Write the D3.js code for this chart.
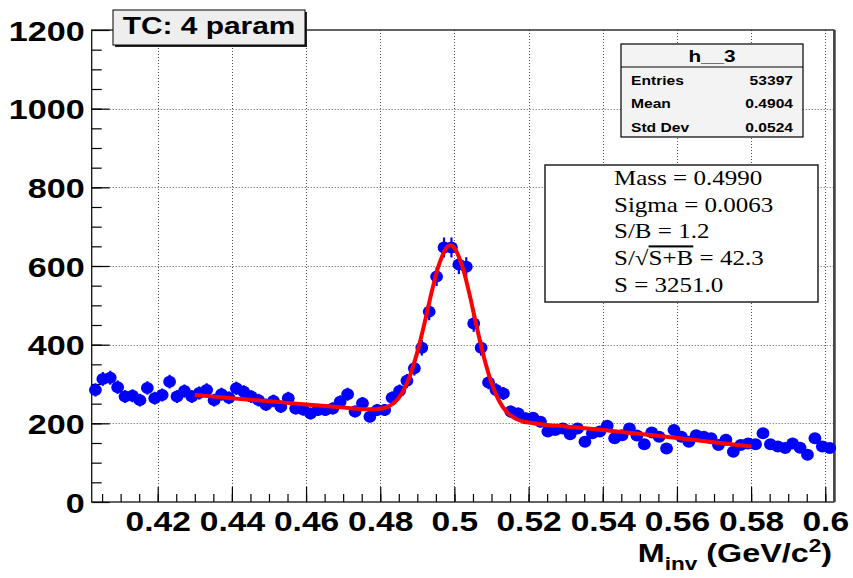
<!DOCTYPE html>
<html><head><meta charset="utf-8">
<script src="https://cdn.jsdelivr.net/npm/d3@7"></script>
<style>
html,body{margin:0;padding:0;background:#fff;}
svg{display:block;}
text{font-family:"Liberation Sans",Arial,Helvetica,sans-serif;}
</style></head>
<body>
<script>
// ---------------- data ----------------
const binLow = 0.4022;
const binWidth = 0.002;
const counts = [
  285,313,316,292,268,270,259,290,264,272,306,268,282,268,277,285,259,274,265,289,
  280,268,259,247,257,242,264,238,235,225,234,234,238,255,274,230,251,217,234,234,
  265,282,308,340,392,484,573,647,647,604,598,454,392,304,285,276,230,225,213,214,
  204,179,183,187,172,187,153,175,179,194,162,170,187,169,147,177,166,136,183,166,
  153,170,166,162,145,158,128,145,149,147,175,147,141,137,149,138,120,162,141,137
];
const fitMass = [0.430,0.440,0.450,0.460,0.470,0.475,0.480,0.482,0.484,0.486,0.488,0.490,
  0.492,0.494,0.496,0.498,0.499,0.500,0.502,0.504,0.506,0.508,0.510,0.512,0.514,0.516,
  0.518,0.520,0.525,0.530,0.540,0.550,0.560,0.570,0.580];
const fitValue = [272,264,256,248,240,236,237,242,254,279,321,381,
  457,539,608,648,653,646,603,531,446,367,303,258,230,215,
  206,202,196,192,183,173,163,152,141];
const xTicks = [0.42,0.44,0.46,0.48,0.50,0.52,0.54,0.56,0.58,0.60];
const xTickLabels = ["0.42","0.44","0.46","0.48","0.5","0.52","0.54","0.56","0.58","0.6"];
const yTicks = [0,200,400,600,800,1000,1200];
const yTickLabels = ["0","200","400","600","800","1000","1200"];
const titleText = "TC: 4 param";
const statsTitle = "h__3";
const statsNames = ["Entries","Mean","Std Dev"];
const statsValues = ["53397","0.4904","0.0524"];
const fitLines = ["Mass = 0.4990","Sigma = 0.0063","S/B = 1.2","SQRT","S = 3251.0"];

// ---------------- layout ----------------
const W = 853, H = 578;
const SX = 1.22; // horizontal text stretch of the original picture
const frame = {l: 91.7, r: 834, t: 30, b: 502};

const svg = d3.select("body").append("svg").attr("width", W).attr("height", H);

const x = d3.scaleLinear().domain([0.4022, 0.60235]).range([frame.l, frame.r]);
const y = d3.scaleLinear().domain([0, 1200]).range([frame.b, frame.t]);

// grid
const grid = svg.append("g").attr("stroke", "#555").attr("stroke-width", 1).attr("stroke-dasharray", "1,2");
grid.selectAll("line.gx").data(xTicks).enter().append("line")
  .attr("x1", d => Math.round(x(d)) + 0.5).attr("x2", d => Math.round(x(d)) + 0.5)
  .attr("y1", frame.t).attr("y2", frame.b);
grid.selectAll("line.gy").data(yTicks.slice(1, -1)).enter().append("line")
  .attr("y1", d => Math.round(y(d)) + 0.5).attr("y2", d => Math.round(y(d)) + 0.5)
  .attr("x1", frame.l).attr("x2", frame.r);

// axes (ticks inside the frame)
function styleAxis(g) {
  g.select(".domain").remove();
  g.selectAll(".tick line").attr("stroke", "#000").attr("stroke-width", 1.2);
}
const xMinor = d3.range(0.405, 0.6001, 0.005);
svg.append("g").attr("transform", `translate(0,${frame.b})`)
  .call(d3.axisBottom(x).tickValues(xMinor).tickSize(-8).tickFormat(""))
  .call(styleAxis);
const yMinor = d3.range(50, 1200, 50);
svg.append("g").attr("transform", `translate(${frame.l},0)`)
  .call(d3.axisLeft(y).tickValues(yMinor).tickSize(-10).tickFormat(""))
  .call(styleAxis);

const xAxis = svg.append("g").attr("transform", `translate(0,${frame.b})`)
  .call(d3.axisBottom(x).tickValues(xTicks).tickSize(-15).tickFormat((d, i) => xTickLabels[i]))
  .call(styleAxis);
xAxis.selectAll(".tick text")
  .attr("y", null).attr("dy", null).attr("x", null)
  .attr("transform", `translate(0,29) scale(${SX},1)`)
  .attr("text-anchor", "middle")
  .attr("font-size", 27.5).attr("font-weight", "bold").attr("fill", "#000")
  .style("font-family", "'Liberation Sans',Arial,sans-serif");

const yAxis = svg.append("g").attr("transform", `translate(${frame.l},0)`)
  .call(d3.axisLeft(y).tickValues(yTicks).tickSize(-18).tickFormat((d, i) => yTickLabels[i]))
  .call(styleAxis);
yAxis.selectAll(".tick text")
  .attr("x", null).attr("dy", null)
  .attr("transform", `translate(-7,10) scale(${SX},1)`)
  .attr("text-anchor", "end")
  .attr("font-size", 28).attr("font-weight", "bold").attr("fill", "#000")
  .style("font-family", "'Liberation Sans',Arial,sans-serif");

// frame
svg.append("rect").attr("x", frame.l).attr("y", frame.t)
  .attr("width", frame.r - frame.l).attr("height", frame.b - frame.t)
  .attr("fill", "none").attr("stroke", "#111").attr("stroke-width", 1.3);
svg.append("line").attr("x1", frame.r + 0.5).attr("x2", frame.r + 0.5)
  .attr("y1", frame.t).attr("y2", frame.b).attr("stroke", "#444").attr("stroke-width", 2.5);

// data points
const bins = counts.map((c, i) => ({m: binLow + binWidth * (i + 0.5), v: c, e: Math.sqrt(c)}));
const pts = svg.append("g").attr("fill", "#0000ff").attr("stroke", "#0000ff");
pts.selectAll("line.ev").data(bins).enter().append("line")
  .attr("x1", d => x(d.m)).attr("x2", d => x(d.m))
  .attr("y1", d => y(d.v - d.e)).attr("y2", d => y(d.v + d.e))
  .attr("stroke-width", 2.2);
pts.selectAll("line.eh").data(bins).enter().append("line")
  .attr("x1", d => x(d.m - binWidth / 2)).attr("x2", d => x(d.m + binWidth / 2))
  .attr("y1", d => y(d.v)).attr("y2", d => y(d.v))
  .attr("stroke-width", 2.2);
pts.selectAll("ellipse").data(bins).enter().append("ellipse")
  .attr("cx", d => x(d.m)).attr("cy", d => y(d.v))
  .attr("rx", 6.4).attr("ry", 6).attr("stroke", "none");

// fit curve
const line = d3.line().x((d, i) => x(fitMass[i])).y(d => y(d)).curve(d3.curveCatmullRom.alpha(0.5));
svg.append("path").datum(fitValue).attr("d", line)
  .attr("fill", "none").attr("stroke", "#ff0000").attr("stroke-width", 4);

// helper for stretched text
function stext(parent, px, py, str, size, opts = {}) {
  return parent.append("text")
    .attr("transform", `translate(${px},${py}) scale(${SX},1)`)
    .attr("font-size", size)
    .attr("font-weight", opts.weight || "normal")
    .attr("text-anchor", opts.anchor || "start")
    .style("font-family", opts.family || "'Liberation Sans',Arial,sans-serif")
    .attr("fill", "#000")
    .text(str);
}

// title box
const tb = {x: 113, y: 10, w: 192, h: 35};
svg.append("rect").attr("x", tb.x + 2).attr("y", tb.y + 2).attr("width", tb.w).attr("height", tb.h).attr("fill", "#222");
svg.append("rect").attr("x", tb.x).attr("y", tb.y).attr("width", tb.w).attr("height", tb.h)
  .attr("fill", "#eeeeee").attr("stroke", "#000").attr("stroke-width", 1);
stext(svg, tb.x + tb.w / 2, 34, titleText, 24.5, {weight: "bold", anchor: "middle"});

// stats box
const sb = {x: 621, y: 44, w: 182, h: 93, hh: 23};
svg.append("rect").attr("x", sb.x).attr("y", sb.y).attr("width", sb.w).attr("height", sb.h)
  .attr("fill", "#f3f3f3").attr("stroke", "#000").attr("stroke-width", 1.2);
svg.append("line").attr("x1", sb.x).attr("x2", sb.x + sb.w).attr("y1", sb.y + sb.hh).attr("y2", sb.y + sb.hh)
  .attr("stroke", "#000").attr("stroke-width", 1.2);
stext(svg, sb.x + sb.w / 2, 61.5, statsTitle, 17, {weight: "bold", anchor: "middle"});
statsNames.forEach((n, i) => {
  const by = 85 + 23.3 * i;
  stext(svg, 631, by, n, 12.8, {weight: "bold"});
  stext(svg, 793, by, statsValues[i], 12.8, {weight: "bold", anchor: "end"});
});

// fit box
const fb = {x: 545, y: 165, w: 273, h: 137};
svg.append("rect").attr("x", fb.x).attr("y", fb.y).attr("width", fb.w).attr("height", fb.h)
  .attr("fill", "#fff").attr("stroke", "#222").attr("stroke-width", 1.5);
const serif = "'Liberation Serif','Times New Roman',serif";
fitLines.forEach((s, i) => {
  const by = 185 + 26.7 * i;
  if (s === "SQRT") {
    const t = svg.append("text")
      .attr("transform", `translate(614,${by}) scale(${SX},1)`)
      .attr("font-size", 20.5).style("font-family", serif).attr("fill", "#000");
    t.append("tspan").text("S/");
    t.append("tspan").text("\u221A");
    t.append("tspan").style("text-decoration", "overline").text("S+B");
    t.append("tspan").text(" = 42.3");
  } else {
    stext(svg, 614, by, s, 20.5, {family: serif});
  }
});

// axis title  M_inv (GeV/c^2)
const at = svg.append("text")
  .attr("transform", `translate(832,562) scale(${SX},1)`)
  .attr("text-anchor", "end").attr("font-weight", "bold").attr("font-size", 26.5)
  .style("font-family", "'Liberation Sans',Arial,sans-serif").attr("fill", "#000");
at.append("tspan").text("M");
at.append("tspan").attr("font-size", 18.5).attr("dy", 8).text("inv");
at.append("tspan").attr("dy", -8).text(" (GeV/c");
at.append("tspan").attr("font-size", 18.5).attr("dy", -10).text("2");
at.append("tspan").attr("dy", 10).text(")");
</script>
</body></html>
